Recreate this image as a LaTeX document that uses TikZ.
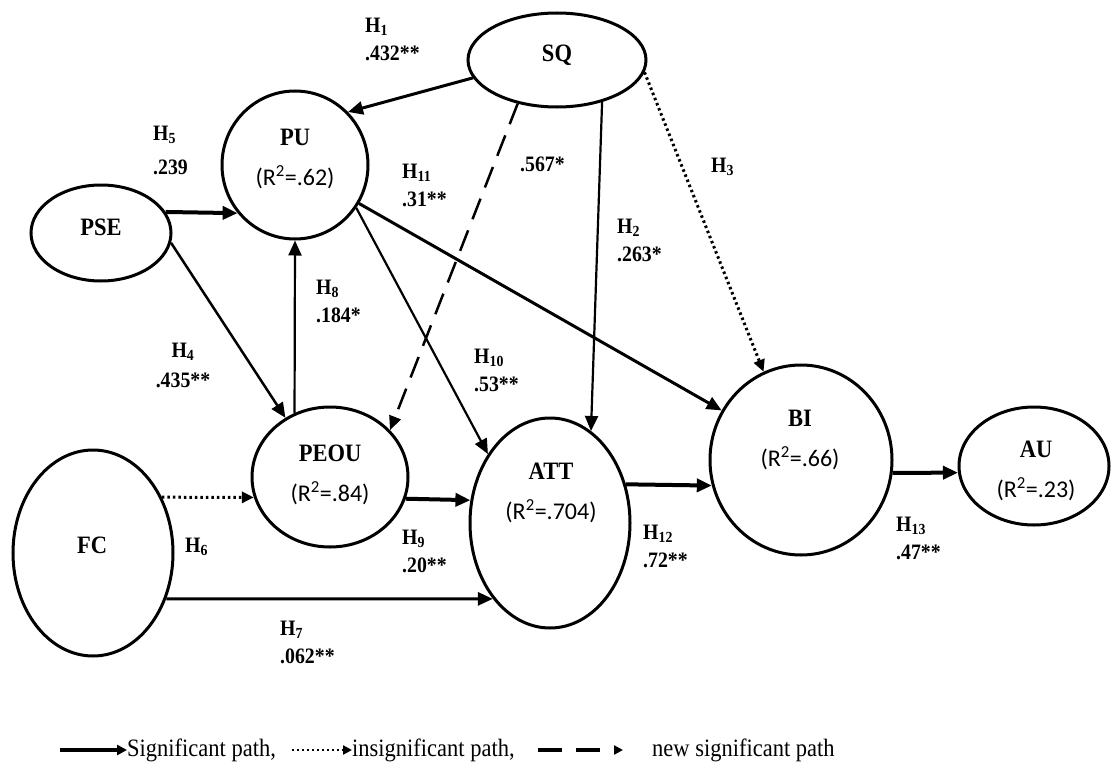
\documentclass[tikz,border=0pt]{standalone}
\usepackage{fontspec}
\setmainfont{Liberation Serif}[FakeStretch=0.9]
\newfontfamily\rfont{Carlito}
\usepackage{tikz}
\usetikzlibrary{calc}
\usetikzlibrary{arrows.meta,positioning,shapes.geometric}

\newcommand{\namefont}{\fontsize{25}{40}\selectfont\bfseries}
\newcommand{\hypfont}{\fontsize{22}{28}\selectfont\bfseries}
\newcommand{\legfont}{\fontsize{25}{28}\selectfont}
\newcommand{\rsq}[1]{{\rfont\mdseries\fontsize{24}{40}\selectfont (R\textsuperscript{2}=#1)}}

\tikzset{
	var/.style={ellipse,draw,line width=3pt,inner sep=0pt},
	vtext/.style={font=\namefont,align=center,inner sep=0pt},
	hyp/.style={font=\hypfont,align=left,anchor=west,inner sep=0pt},
	leg/.style={font=\legfont,anchor=west,inner sep=0pt},
	sig/.style={-{Triangle[length=15pt,width=13pt]},line width=3pt},
	insig/.style={-{Triangle[length=12pt,width=11pt]},line width=3pt,dash pattern=on 2.5pt off 3pt},
	newsig/.style={-{Triangle[length=14pt,width=12pt]},line width=2.5pt,dash pattern=on 22pt off 12pt}
}

\begin{document}
\begin{tikzpicture}[x=1pt,y=-1pt]
	\fill[white] (0,0) rectangle (1111,768);
	\useasboundingbox (0,0) rectangle (1111,768);

		\node[var,minimum width=178pt,minimum height=94pt] (sq) at (557,60) {};
		\node[var,minimum width=140pt,minimum height=96pt] (pse) at (101,233) {};
		\node[var,minimum width=146pt,minimum height=148pt] (pu) at (295,165) {};
		\node[var,minimum width=156pt,minimum height=140pt] (peou) at (330,477) {};
		\node[var,minimum width=160pt,minimum height=206pt] (fc) at (93,553) {};
		\node[var,minimum width=160pt,minimum height=210pt] (att) at (550,523) {};
		\node[var,minimum width=182pt,minimum height=190pt] (bi) at (801,460) {};
		\node[var,minimum width=150pt,minimum height=118pt] (au) at (1034,466) {};

		\node[vtext] (sq-t) at (557,55) {SQ};
		\node[vtext] (pse-t) at (101,227) {PSE};
		\node[vtext] (pu-t) at (295,159) {PU\\\rsq{.62}};
		\node[vtext] (peou-t) at (330,475) {PEOU\\\rsq{.84}};
		\node[vtext] (fc-t) at (92,545) {FC};
		\node[vtext] (att-t) at (551,493) {ATT\\\rsq{.704}};
		\node[vtext] (bi-t) at (800,440) {BI\\\rsq{.66}};
		\node[vtext] (au-t) at (1036,471) {AU\\\rsq{.23}};

	\draw[sig] (sq.192) -- (pu.45);
	\draw[sig,line width=4pt] (pse.18) -- (pu.220);
	\draw[sig,line width=2.5pt] (pse.-8) -- (peou.127);
	\draw[sig,line width=2.2pt] (peou.119) -- (pu.south);
	\draw[newsig] (sq.228) -- (peou.38);
	\draw[sig,line width=2.2pt] (sq.-43) -- (att.66);
	\draw[insig] (sq.-8) -- (bi.113);
	\draw[sig,line width=2.2pt] (pu.-35) -- (att.132);
	\draw[sig] (pu.-31) -- (bi.148);
	\draw[insig] (fc.39) -- (peou.195);
	\draw[sig] (fc.-32) -- (att.233);
	\draw[sig,line width=4pt] (peou.-16) -- (att.164);
	\draw[sig,line width=4pt] (att.27) -- (bi.196);
	\draw[sig,line width=4pt] (bi.-8) -- (au.185);

		\node[hyp] (h1) at (365,39) {H\textsubscript{1}\\.432**};
		\node[hyp] (h5) at (153,150) {H\textsubscript{5}\\[6pt].239};
		\node[hyp] (h11) at (402,185) {H\textsubscript{11}\\.31**};
		\node[hyp] (h567) at (520,164) {.567*};
		\node[hyp] (h2) at (617,240) {H\textsubscript{2}\\.263*};
		\node[hyp] (h3) at (711,167) {H\textsubscript{3}};
		\node[hyp] (h8) at (316,301) {H\textsubscript{8}\\.184*};
		\node[hyp,anchor=center,align=center] (h4) at (183,365) {H\textsubscript{4}\\[2pt].435**};
		\node[hyp] (h10) at (474,370) {H\textsubscript{10}\\.53**};
		\node[hyp] (h6) at (185,547) {H\textsubscript{6}};
		\node[hyp] (h9) at (402,551) {H\textsubscript{9}\\.20**};
		\node[hyp] (h7) at (280,642) {H\textsubscript{7}\\.062**};
		\node[hyp] (h12) at (643,546) {H\textsubscript{12}\\.72**};
		\node[hyp] (h13) at (896,538) {H\textsubscript{13}\\.47**};

	\coordinate (l1a) at (60,750);
	\node[leg] (l1) at (127,750) {Significant path,};
	\coordinate (l2a) at (292,750);
	\node[leg] (l2) at (352,750) {insignificant path,};
	\coordinate (l3a) at (538,750);
	\coordinate (l3b) at (623,750);
	\node[leg] (l3) at (652,750) {new significant path};
	\draw[-{Triangle[length=10pt,width=10pt]},line width=4pt] (l1a) -- (l1.west);
	\draw[-{Triangle[length=9pt,width=9pt]},line width=2.5pt,dash pattern=on 2pt off 3pt] (l2a) -- (l2.west);
	\draw[-{Triangle[length=9pt,width=9pt]},line width=4pt,dash pattern=on 24pt off 14pt] (l3a) -- (l3b);
\end{tikzpicture}
\end{document}
